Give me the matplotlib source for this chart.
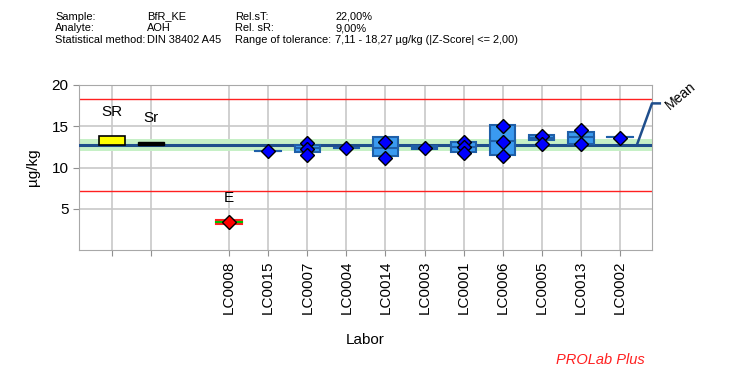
import matplotlib
matplotlib.use('Agg')
import matplotlib.pyplot as plt

plt.rcParams['font.family'] = ['Liberation Sans', 'DejaVu Sans']

# Kennwerte der Probe
mean_val = 12.69
tol_lo, tol_hi = 7.11, 18.27
band_lo, band_hi = 11.95, 13.45
sr_hi = 13.83   # SR (Vergleichsstandardabweichung) oberhalb Mittelwert
sr_small_hi = 13.1

# Labore und Ergebnisse
labs = ['LC0008', 'LC0015', 'LC0007', 'LC0004', 'LC0014', 'LC0003',
        'LC0001', 'LC0006', 'LC0005', 'LC0013', 'LC0002']
box_lo = [3.15, 12.0, 11.85, 12.33, 11.42, 12.25, 11.92, 11.55, 13.3, 12.85, 13.65]
box_hi = [3.65, 12.0, 12.75, 12.33, 13.64, 12.6, 13.06, 15.2, 13.9, 14.25, 13.65]
box_mid = [3.42, 12.0, 12.33, 12.33, 12.35, 12.4, 12.49, 13.2, 13.6, 13.65, 13.65]
werte = [[3.35], [12.0], [13.0, 12.3, 11.55], [12.33], [13.1, 11.1], [12.4],
         [13.1, 12.5, 11.8], [15.0, 13.15, 11.4], [13.85, 12.8], [14.5, 12.9], [13.55]]
ausreisser = ['LC0008']

fig = plt.figure(figsize=(7.53, 3.70), dpi=100)
ax = fig.add_axes([79/753, 1-250/370, (652-79)/753, (250-85)/370])

pos = list(range(3, 3 + len(labs)))
ax.set_xlim(-0.84, 13.82)
ax.set_ylim(0, 20)

grau = '#c8c8c8'
for p in [0, 1] + pos:
    ax.axvline(p, color=grau, lw=1.2, zorder=0)
for v in [5, 10, 15]:
    ax.axhline(v, color=grau, lw=1.2, zorder=0)

# Toleranzbereich, Mittelwert und Band
ax.axhspan(band_lo, band_hi, color='#c6f0c6', zorder=1, lw=0)
ax.axhline(tol_hi, color='#ff2020', lw=1, zorder=2)
ax.axhline(tol_lo, color='#ff2020', lw=1, zorder=2)
ax.axhline(mean_val, color='#1f4e8c', lw=2.2, zorder=3)

# SR und Sr
w = 0.65
ax.bar(0, sr_hi - mean_val, bottom=mean_val, width=w, color='#ffff00',
       edgecolor='black', lw=1.2, zorder=4)
ax.bar(1, sr_small_hi - mean_val, bottom=mean_val, width=w, color='black',
       edgecolor='black', lw=1, zorder=4)
ax.text(0, 16.7, 'SR', ha='center', va='center', fontsize=11)
ax.text(1, 16.0, 'Sr', ha='center', va='center', fontsize=11)

for p, lab, lo, hi, mid, ws in zip(pos, labs, box_lo, box_hi, box_mid, werte):
    if lab in ausreisser:
        fc, ec, mc, midc = '#ff8080', '#ff2020', '#ff0000', '#00c000'
    else:
        fc, ec, mc, midc = '#3a9af0', '#1f5fa8', '#0000ff', '#1f5fa8'
    ax.bar(p, hi - lo, bottom=lo, width=w, color=fc, edgecolor=ec, lw=1.5, zorder=4)
    ax.plot([p - w/2, p + w/2], [mid, mid], color=midc, lw=1.5, zorder=5)
    ax.plot([p] * len(ws), ws, 'D', color=mc, markeredgecolor='black',
            markersize=7, markeredgewidth=1, zorder=6, ls='none')
    if lab in ausreisser:
        ax.text(p, 6.3, 'E', ha='center', va='center', fontsize=11)

# Beschriftung Mittelwert
ax.plot([13.43, 13.82, 14.02], [mean_val, 17.77, 17.77], color='#1f4e8c',
        lw=1.8, clip_on=False, zorder=5)
ax.text(14.2, 17.3, 'Mean', rotation=40, rotation_mode='anchor',
        ha='left', va='center', fontsize=10, clip_on=False)

ax.set_xticks([0, 1] + pos)
ax.set_xticklabels(['', ''] + labs, rotation=90, fontsize=11)
ax.set_yticks([5, 10, 15, 20])
ax.set_yticklabels(['5', '10', '15', '20'], fontsize=11)
ax.tick_params(colors='#909090', labelcolor='black', length=4)
for s in ax.spines.values():
    s.set_color('#a8a8a8')
ax.set_ylabel('µg/kg', fontsize=11, labelpad=8)
ax.set_xlabel('Labor', fontsize=11)
ax.xaxis.set_label_coords((365-79)/(652-79), -(333-250)/(250-85))

# Kopfzeilen
kopf = [
    ('Sample:', 'BfR_KE', 'Rel.sT:', '22,00%'),
    ('Analyte:', 'AOH', 'Rel. sR:', '9,00%'),
    ('Statistical method:', 'DIN 38402 A45', 'Range of tolerance:',
     '7,11 - 18,27 µg/kg (|Z-Score| <= 2,00)'),
]
spalten = [55, 147, 235, 335]
zeilen = [19.5, 31.3, 43.0]
for zeile, y in zip(kopf, zeilen):
    for txt, x in zip(zeile, spalten):
        fig.text(x/753, 1 - y/370, txt, fontsize=7.9, va='baseline')

fig.text(645/753, 1 - 364/370, 'PROLab Plus', color='#ff2020', style='italic',
         fontsize=10.5, ha='right', va='baseline')

fig.savefig('out.png', dpi=100)
